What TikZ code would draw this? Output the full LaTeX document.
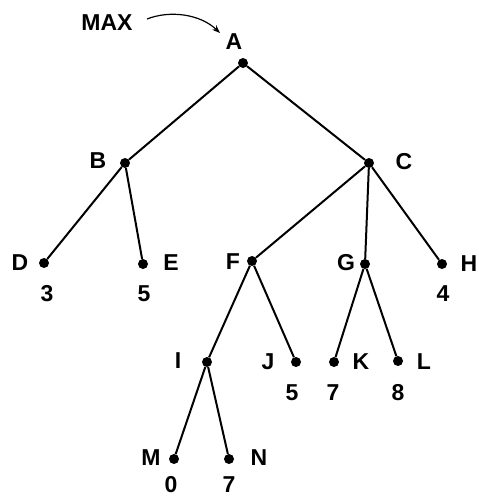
\documentclass[tikz,border=0pt]{standalone}
\usepackage{fontspec}
\setmainfont{Liberation Sans}
\usetikzlibrary{arrows.meta}
\begin{document}
\begin{tikzpicture}[x=1pt,y=-1pt,
  dot/.style={circle,fill=black,inner sep=0pt,minimum size=10pt},
  txt/.style={font=\fontsize{23}{23}\selectfont\bfseries,inner sep=0pt,anchor=center},
  edge/.style={line width=2pt}]
\useasboundingbox (0,0) rectangle (479,498);
% dots
\node[dot] (A) at (243,63) {};
\node[dot] (B) at (125,163) {};
\node[dot] (C) at (369,163) {};
\node[dot] (D) at (44,263) {};
\node[dot] (E) at (143,264) {};
\node[dot] (F) at (252,261) {};
\node[dot] (G) at (365,264) {};
\node[dot] (H) at (442,264) {};
\node[dot] (I) at (207,362) {};
\node[dot] (J) at (296,362) {};
\node[dot] (K) at (334,362) {};
\node[dot] (L) at (398,361) {};
\node[dot] (M) at (174,459) {};
\node[dot] (N) at (229,459) {};
% edges
\draw[edge] (A) -- (B);
\draw[edge] (A) -- (C);
\draw[edge] (B) -- (D);
\draw[edge] (B) -- (E);
\draw[edge] (C) -- (F);
\draw[edge] (C) -- (G);
\draw[edge] (C) -- (H);
\draw[edge] (F) -- (I);
\draw[edge] (F) -- (J);
\draw[edge] (G) -- (K);
\draw[edge] (G) -- (L);
\draw[edge] (I) -- (M);
\draw[edge] (I) -- (N);
% labels
\node[txt] (max) at (107,23) {MAX};
\node[txt] (lA) at (234,42) {A};
\node[txt] (lB) at (98,161) {B};
\node[txt] (lC) at (404,162) {C};
\node[txt] (lD) at (20,263) {D};
\node[txt] (lE) at (171,263) {E};
\node[txt] (lF) at (233,262) {F};
\node[txt] (lG) at (346,263) {G};
\node[txt] (lH) at (469,264) {H};
\node[txt] (lI) at (178,361) {I};
\node[txt] (lJ) at (268,362) {J};
\node[txt] (lK) at (361,362) {K};
\node[txt] (lL) at (424,362) {L};
\node[txt] (lM) at (151,458) {M};
\node[txt] (lN) at (259,458) {N};
\node[txt] (vD) at (47,294) {3};
\node[txt] (vE) at (144,294) {5};
\node[txt] (vH) at (443,294) {4};
\node[txt] (vJ) at (292,393) {5};
\node[txt] (vK) at (333,393) {7};
\node[txt] (vL) at (398,393) {8};
\node[txt] (vM) at (171,485) {0};
\node[txt] (vN) at (229,485) {7};
% MAX arrow
\coordinate (s) at (147,19);
\coordinate (t) at (220,33);
\draw[line width=1.2pt,-{Stealth[length=8pt,width=6pt]}] (s) .. controls (170,10) and (200,14) .. (t);
\end{tikzpicture}
\end{document}
